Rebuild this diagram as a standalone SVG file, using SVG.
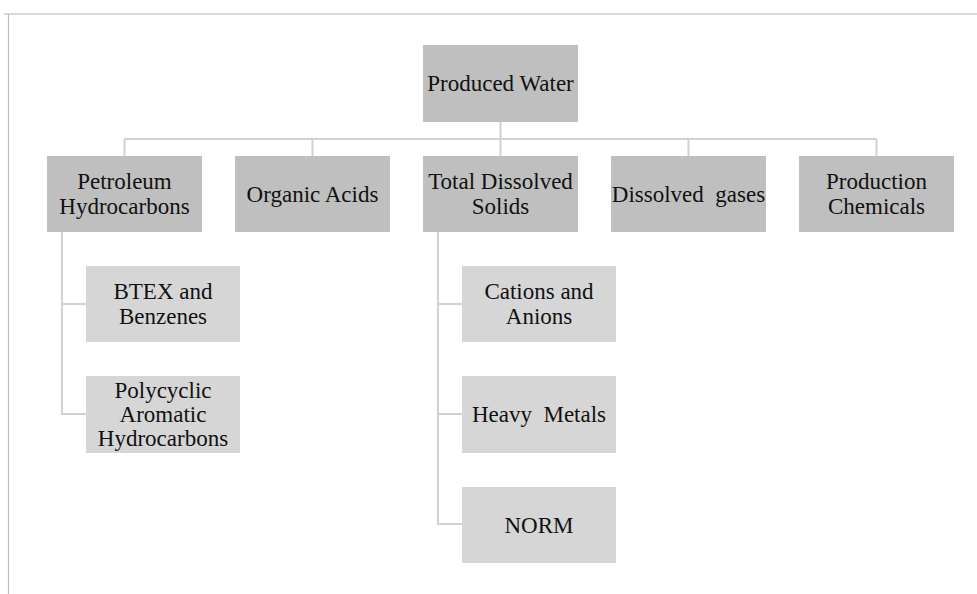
<svg xmlns="http://www.w3.org/2000/svg" width="977" height="594" viewBox="0 0 977 594">
<style>
.l0{fill:#bfbfbf}
.l2{fill:#d6d6d6}
.c{stroke:#d2d2d2;stroke-width:2;fill:none}
text{font-family:"Liberation Serif","Times New Roman",serif;font-size:23px;fill:#111;text-anchor:middle}
</style>
<rect width="977" height="594" fill="#fff"/>
<line x1="4" y1="14" x2="977" y2="14" stroke="#d9d9d9" stroke-width="2"/>
<line x1="8.5" y1="14" x2="8.5" y2="594" stroke="#bdbdbd" stroke-width="1.2"/>
<g id="connectors" class="c">
<path d="M500.5 122V139M124.5 139H876.5M124.5 139V156M312.5 139V156M500.5 139V156M688.5 139V156M876.5 139V156"/>
<path d="M62 232V414H86M62 304H86"/>
<path d="M438 232V524H462M438 304H462M438 414H462"/>
</g>
<g id="produced-water"><rect class="l0" x="423" y="45" width="155" height="77"/><text x="500.5" y="91">Produced Water</text></g>
<g id="petroleum"><rect class="l0" x="47" y="156" width="155" height="76"/><text x="124.5" y="189">Petroleum</text><text x="124.5" y="214">Hydrocarbons</text></g>
<g id="organic-acids"><rect class="l0" x="235" y="156" width="155" height="76"/><text x="312.5" y="201.5">Organic Acids</text></g>
<g id="tds"><rect class="l0" x="423" y="156" width="155" height="76"/><text x="500.5" y="189">Total Dissolved</text><text x="500.5" y="214">Solids</text></g>
<g id="dissolved-gases"><rect class="l0" x="611" y="156" width="155" height="76"/><text x="688.5" y="201.5" xml:space="preserve">Dissolved  gases</text></g>
<g id="production-chemicals"><rect class="l0" x="799" y="156" width="155" height="76"/><text x="876.5" y="189">Production</text><text x="876.5" y="214">Chemicals</text></g>
<g id="btex"><rect class="l2" x="86" y="266" width="154" height="76"/><text x="163" y="299">BTEX and</text><text x="163" y="324">Benzenes</text></g>
<g id="pah"><rect class="l2" x="86" y="376" width="154" height="77"/><text x="163" y="398">Polycyclic</text><text x="163" y="422">Aromatic</text><text x="163" y="446">Hydrocarbons</text></g>
<g id="cations"><rect class="l2" x="462" y="266" width="154" height="76"/><text x="539" y="299">Cations and</text><text x="539" y="324">Anions</text></g>
<g id="heavy-metals"><rect class="l2" x="462" y="376" width="154" height="77"/><text x="539" y="422" xml:space="preserve">Heavy  Metals</text></g>
<g id="norm"><rect class="l2" x="462" y="487" width="154" height="76"/><text x="539" y="532.5">NORM</text></g>
</svg>
